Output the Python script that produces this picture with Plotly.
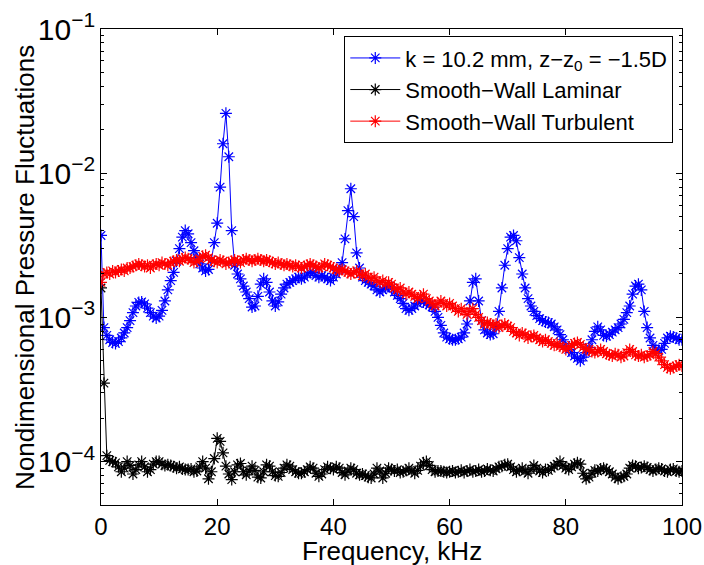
import plotly.graph_objects as go

# frequency grid, kHz
freq = [
    0, 0.5, 1, 1.5, 2, 2.5, 3, 3.5, 4, 4.5,
    5, 5.5, 6, 6.5, 7, 7.5, 8, 8.5, 9, 9.5,
    10, 10.5, 11, 11.5, 12, 12.5, 13, 13.5, 14, 14.5,
    15, 15.5, 16, 16.5, 17, 17.5, 18, 18.5, 19, 19.5,
    20, 20.5, 21, 21.5, 22, 22.5, 23, 23.5, 24, 24.5,
    25, 25.5, 26, 26.5, 27, 27.5, 28, 28.5, 29, 29.5,
    30, 30.5, 31, 31.5, 32, 32.5, 33, 33.5, 34, 34.5,
    35, 35.5, 36, 36.5, 37, 37.5, 38, 38.5, 39, 39.5,
    40, 40.5, 41, 41.5, 42, 42.5, 43, 43.5, 44, 44.5,
    45, 45.5, 46, 46.5, 47, 47.5, 48, 48.5, 49, 49.5,
    50, 50.5, 51, 51.5, 52, 52.5, 53, 53.5, 54, 54.5,
    55, 55.5, 56, 56.5, 57, 57.5, 58, 58.5, 59, 59.5,
    60, 60.5, 61, 61.5, 62, 62.5, 63, 63.5, 64, 64.5,
    65, 65.5, 66, 66.5, 67, 67.5, 68, 68.5, 69, 69.5,
    70, 70.5, 71, 71.5, 72, 72.5, 73, 73.5, 74, 74.5,
    75, 75.5, 76, 76.5, 77, 77.5, 78, 78.5, 79, 79.5,
    80, 80.5, 81, 81.5, 82, 82.5, 83, 83.5, 84, 84.5,
    85, 85.5, 86, 86.5, 87, 87.5, 88, 88.5, 89, 89.5,
    90, 90.5, 91, 91.5, 92, 92.5, 93, 93.5, 94, 94.5,
    95, 95.5, 96, 96.5, 97, 97.5, 98, 98.5, 99, 99.5,
    100,
]

# k = 10.2 mm, z-z0 = -1.5D   (values x 1e-3)
rough_e3 = [
    3.7, 0.85, 0.75, 0.70, 0.67, 0.66, 0.68, 0.72, 0.78, 0.85,
    0.95, 1.08, 1.20, 1.27, 1.28, 1.24, 1.16, 1.08, 1.02, 0.99,
    1.02, 1.12, 1.30, 1.55, 1.80, 2.05, 2.45, 3.0, 3.6, 4.0,
    3.8, 3.3, 2.9, 2.6, 2.35, 2.2, 2.1, 2.15, 2.5, 3.3,
    4.5, 8.0, 16.0, 26.0, 13.0, 4.0, 2.3, 2.0, 1.85, 1.65,
    1.5, 1.35, 1.18, 1.2, 1.4, 1.7, 1.85, 1.75, 1.5, 1.3,
    1.2, 1.28, 1.45, 1.6, 1.7, 1.75, 1.8, 1.85, 1.9, 1.85,
    1.9, 2.0, 2.05, 2.05, 1.95, 1.9, 1.95, 1.9, 1.85, 1.8,
    1.9, 2.0, 2.15, 2.4, 3.5, 5.5, 7.8, 5.0, 2.8, 2.2,
    1.9, 1.8, 1.75, 1.7, 1.65, 1.55, 1.5, 1.55, 1.6, 1.65,
    1.6, 1.5, 1.42, 1.35, 1.25, 1.15, 1.12, 1.15, 1.2, 1.25,
    1.3, 1.28, 1.25, 1.22, 1.18, 1.1, 1.0, 0.88, 0.78, 0.73,
    0.71, 0.70, 0.70, 0.71, 0.73, 0.78, 0.9, 1.3, 1.75, 1.85,
    1.3, 0.95, 0.82, 0.78, 0.76, 0.77, 0.85, 1.1, 1.6, 2.3,
    3.0, 3.6, 3.7, 3.4, 2.6, 2.0, 1.6, 1.35, 1.2, 1.1,
    1.03, 0.98, 0.95, 0.93, 0.92, 0.9, 0.86, 0.82, 0.76, 0.7,
    0.64, 0.6, 0.57, 0.54, 0.52, 0.5, 0.53, 0.57, 0.62, 0.7,
    0.8, 0.86, 0.82, 0.75, 0.74, 0.76, 0.79, 0.82, 0.85, 0.9,
    0.97, 1.08, 1.2, 1.45, 1.65, 1.7, 1.55, 1.1, 0.85, 0.72,
    0.64, 0.6, 0.59, 0.6, 0.66, 0.72, 0.74, 0.73, 0.72, 0.7,
    0.7,
]

# smooth-wall laminar   (values x 1e-5)
laminar_e5 = [
    160, 35, 11.0, 10.2, 10.0, 9.8, 9.2, 8.5, 9.0, 10.0,
    9.4, 8.2, 8.8, 9.5, 10.0, 9.2, 8.5, 8.8, 9.6, 10.0,
    10.0, 9.6, 9.4, 9.5, 9.4, 9.2, 9.0, 9.2, 8.9, 8.8,
    8.8, 8.9, 8.5, 8.6, 9.2, 10.0, 9.0, 7.6, 8.5, 10.5,
    14.5, 13.8, 11.5, 9.3, 8.2, 7.5, 8.5, 9.5, 9.7, 8.5,
    8.1, 8.6, 9.3, 8.7, 7.8, 7.7, 8.5, 9.5, 9.3, 8.5,
    8.0, 7.9, 8.4, 9.0, 9.5, 9.3, 8.8, 8.5, 8.3, 8.3,
    8.5, 8.8, 9.2, 9.0, 8.3, 7.9, 8.2, 8.8, 9.2, 9.0,
    8.8, 9.2, 9.0, 8.4, 8.1, 8.6, 9.0, 8.8, 8.3, 8.1,
    8.2, 8.0, 7.8, 7.7, 8.2, 9.0, 8.6, 7.7, 8.3, 9.0,
    8.8, 8.6, 8.8, 8.4, 8.5, 8.7, 9.0, 8.6, 8.3, 8.7,
    9.3, 9.8, 10.0, 9.4, 8.8, 8.5, 8.6, 8.6, 8.5, 8.4,
    8.5, 8.6, 8.4, 8.5, 8.7, 8.4, 8.6, 8.8, 8.5, 8.6,
    8.8, 8.5, 8.6, 8.9, 8.7, 8.6, 8.9, 9.2, 9.3, 9.5,
    9.6, 9.2, 8.8, 8.5, 8.7, 9.0, 8.6, 8.3, 8.8, 9.4,
    9.0, 8.6, 8.4, 8.8, 8.7, 9.0, 9.3, 9.6, 10.0, 9.4,
    9.0, 8.8, 9.2, 9.6, 9.8, 9.6, 8.3, 7.6, 7.8, 8.3,
    8.7, 8.6, 8.9, 9.0, 8.8, 8.5, 8.2, 7.8, 7.6, 7.8,
    7.9, 8.2, 9.0, 9.4, 9.3, 9.0, 9.1, 9.3, 9.1, 8.8,
    8.6, 8.8, 9.0, 8.9, 8.6, 8.5, 8.8, 8.9, 8.6, 8.5,
    8.6,
]

# smooth-wall turbulent   (values x 1e-3)
turbulent_e3 = [
    1.75, 2.0, 2.05, 2.0, 2.1, 2.05, 2.1, 2.15, 2.1, 2.2,
    2.2, 2.25, 2.3, 2.35, 2.3, 2.25, 2.3, 2.2, 2.3, 2.35,
    2.3, 2.4, 2.35, 2.3, 2.4, 2.45, 2.5, 2.45, 2.55, 2.6,
    2.55, 2.5, 2.4, 2.45, 2.55, 2.65, 2.7, 2.6, 2.5, 2.45,
    2.4, 2.5, 2.45, 2.35, 2.4, 2.45, 2.5, 2.45, 2.4, 2.5,
    2.55, 2.5, 2.45, 2.5, 2.55, 2.5, 2.45, 2.5, 2.45, 2.4,
    2.35, 2.4, 2.35, 2.3, 2.35, 2.3, 2.25, 2.3, 2.25, 2.2,
    2.25, 2.3, 2.35, 2.3, 2.25, 2.2, 2.25, 2.35, 2.3, 2.25,
    2.2, 2.15, 2.1, 2.15, 2.1, 2.05, 2.0, 2.05, 2.1, 2.0,
    1.95, 2.0, 1.9, 1.85, 1.9, 1.8, 1.75, 1.8, 1.7, 1.75,
    1.7, 1.6, 1.55, 1.6, 1.5, 1.45, 1.5, 1.45, 1.4, 1.35,
    1.4, 1.45, 1.35, 1.3, 1.25, 1.2, 1.25, 1.3, 1.25, 1.2,
    1.25, 1.2, 1.15, 1.1, 1.15, 1.1, 1.05, 1.1, 1.15, 1.05,
    1.0, 0.95, 0.9, 0.92, 0.9, 0.88, 0.9, 0.85, 0.88, 0.9,
    0.87, 0.85, 0.8, 0.78, 0.75, 0.78, 0.76, 0.72, 0.74, 0.75,
    0.72, 0.7, 0.68, 0.7, 0.68, 0.66, 0.64, 0.66, 0.63, 0.62,
    0.6, 0.62, 0.64, 0.66, 0.67, 0.65, 0.62, 0.6, 0.6, 0.58,
    0.57, 0.58, 0.6, 0.58, 0.56, 0.55, 0.54, 0.56, 0.55, 0.53,
    0.54, 0.57, 0.6, 0.58, 0.55, 0.54, 0.55, 0.53, 0.54, 0.55,
    0.58, 0.56, 0.53, 0.5, 0.47, 0.45, 0.44, 0.45, 0.46, 0.47,
    0.46,
]

assert len(freq) == len(rough_e3) == len(laminar_e5) == len(turbulent_e3)

rough = [v * 1e-3 for v in rough_e3]
laminar = [v * 1e-5 for v in laminar_e5]
turbulent = [v * 1e-3 for v in turbulent_e3]

FONT = "Liberation Sans, Arial, Helvetica, sans-serif"

series = [
    ("k = 10.2 mm, z\u2212z<sub>0</sub> = \u22121.5D", rough, "rgb(0,0,255)"),
    ("Smooth\u2212Wall Laminar", laminar, "rgb(0,0,0)"),
    ("Smooth\u2212Wall Turbulent", turbulent, "rgb(255,0,0)"),
]

fig = go.Figure()
for name, vals, col in series:
    fig.add_trace(go.Scatter(
        x=freq, y=vals, name=name, mode="lines+markers",
        line=dict(color=col, width=1),
        marker=dict(symbol="asterisk-open", size=10, color=col,
                    line=dict(color=col, width=1.2)),
    ))

fig.update_layout(
    template="none",
    width=704, height=565,
    margin=dict(l=101, r=22, t=29, b=60),
    paper_bgcolor="white", plot_bgcolor="white",
    font=dict(family=FONT, size=24, color="black"),
    showlegend=True,
    legend=dict(
        x=0.985, y=0.985, xanchor="right", yanchor="top",
        bgcolor="white", bordercolor="black", borderwidth=1,
        font=dict(size=22), itemwidth=50, tracegroupgap=0,
    ),
)

# axis titles as annotations so they sit where the reference has them
fig.add_annotation(text="Frequency, kHz", xref="paper", yref="paper",
                   x=0.5, y=-0.096, xanchor="center", yanchor="middle",
                   showarrow=False, font=dict(size=26))
fig.add_annotation(text="Nondimensional Pressure Fluctuations",
                   xref="paper", yref="paper", x=-0.131, y=0.5,
                   xanchor="center", yanchor="middle", textangle=-90,
                   showarrow=False, font=dict(size=26))

fig.update_xaxes(
    range=[0, 100], tick0=0, dtick=20, automargin=False,
    showline=True, linecolor="black", linewidth=1, mirror="allticks",
    ticks="inside", ticklen=6, tickcolor="black",
    showgrid=False, zeroline=False,
    tickfont=dict(size=24),
)
fig.update_yaxes(
    type="log", range=[-4.301, -1], dtick=1, exponentformat="power",
    automargin=False,
    showline=True, linecolor="black", linewidth=1, mirror="allticks",
    ticks="inside", ticklen=6, tickcolor="black",
    minor=dict(ticks="inside", ticklen=3, tickcolor="black", showgrid=False),
    showgrid=False, zeroline=False,
    tickfont=dict(size=24),
)

# drop the default page margin so the figure sits at the window's corner
fig.write_html("out.html",
               config={"displayModeBar": False},
               post_script="document.body.style.margin='0';"
                           "document.body.style.padding='0';")
